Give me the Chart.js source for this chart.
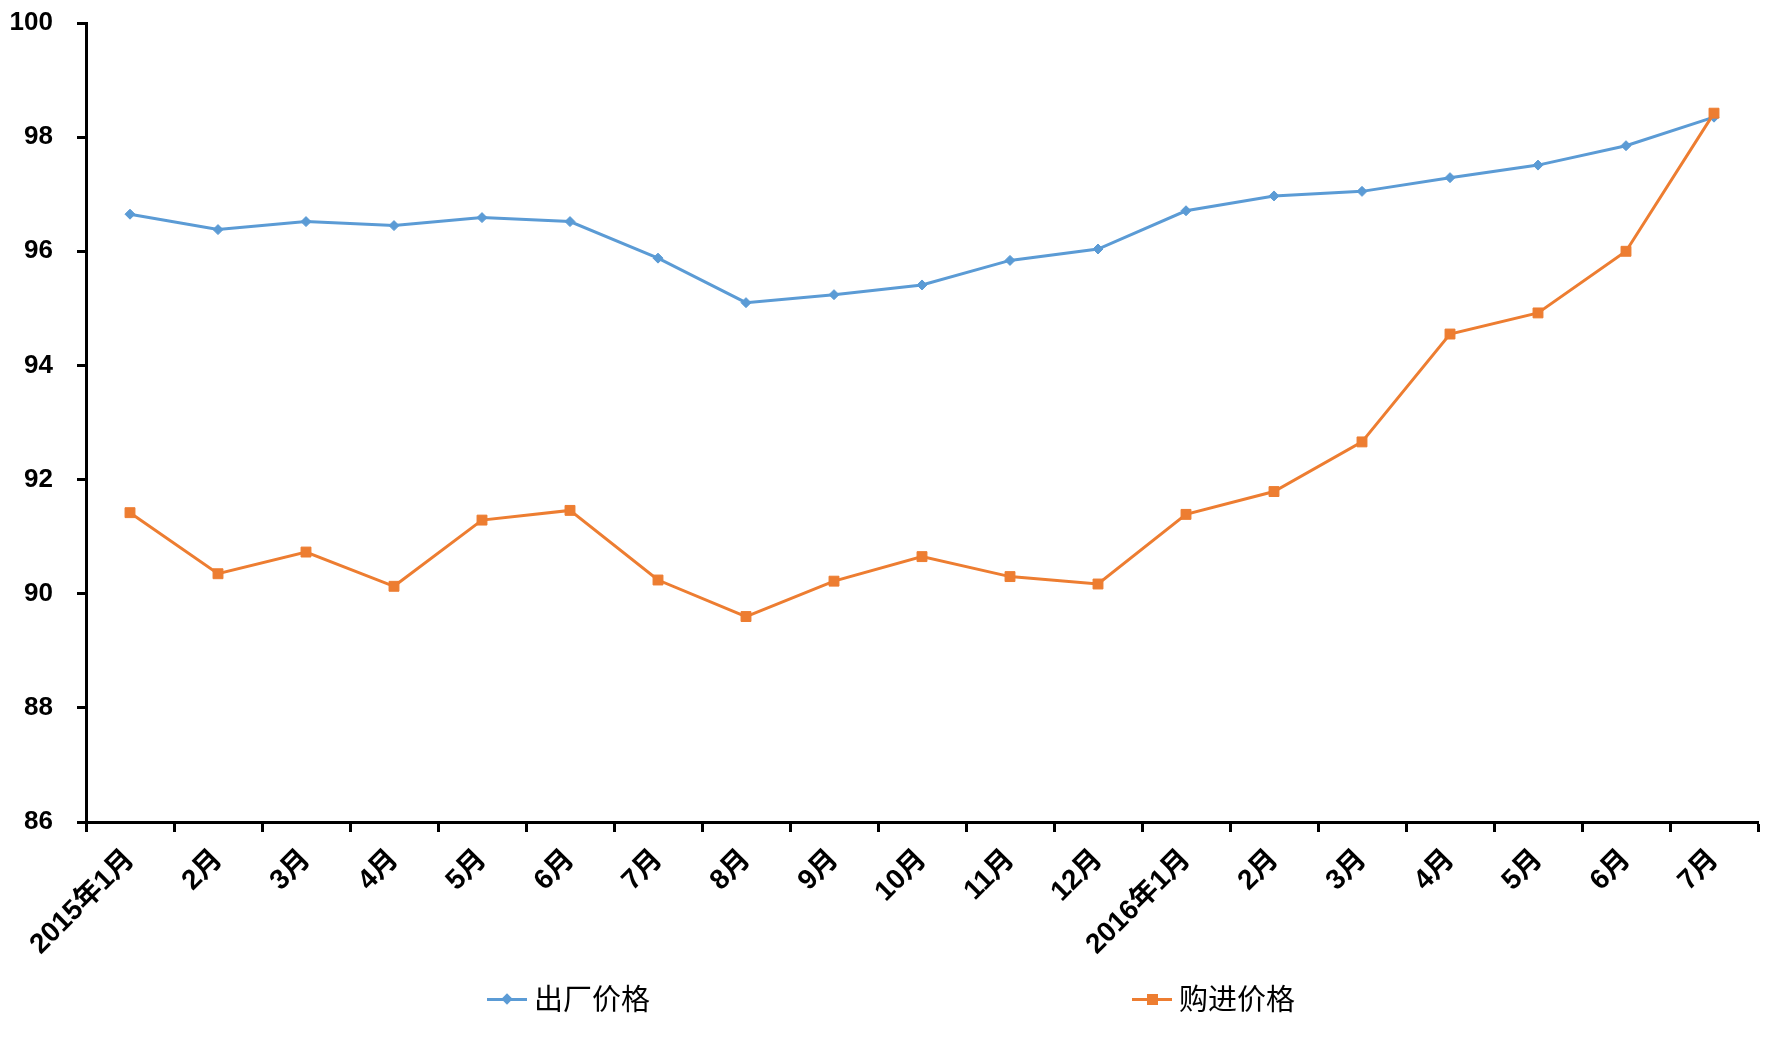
<!DOCTYPE html>
<html>
<head>
<meta charset="utf-8">
<script src="https://cdn.jsdelivr.net/npm/chart.js@4/dist/chart.umd.min.js"></script>
<style>
html,body{margin:0;padding:0;background:#fff;}
#wrap{position:relative;width:1783px;height:1055px;overflow:hidden;}
#legend{position:absolute;left:0;top:0;width:1783px;height:1055px;pointer-events:none;font-family:"Noto Sans CJK SC","Noto Sans",sans-serif;font-size:29px;color:#000;}
.item{position:absolute;top:977px;height:40px;display:flex;align-items:center;white-space:nowrap;}
.sym{position:relative;width:40px;height:40px;margin-right:7px;}
.ln{position:absolute;left:0;right:0;top:21px;height:3px;}
.dia{position:absolute;left:16px;top:18px;width:8px;height:8px;transform:rotate(45deg);}
.sq{position:absolute;left:15px;top:17px;width:11px;height:11px;}
</style>
</head>
<body>
<div id="wrap">
<canvas id="c" width="1783" height="1055"></canvas>
<div id="legend"></div>
</div>
<script>
const categories = ['2015年1月','2月','3月','4月','5月','6月','7月','8月','9月','10月','11月','12月','2016年1月','2月','3月','4月','5月','6月','7月'];
const seriesNames = ['出厂价格','购进价格'];
const exFactoryPrice = [96.65, 96.38, 96.52, 96.45, 96.59, 96.52, 95.88, 95.10, 95.24, 95.41, 95.84, 96.04, 96.71, 96.97, 97.05, 97.29, 97.51, 97.85, 98.35];
const purchasePrice = [91.42, 90.35, 90.73, 90.13, 91.29, 91.46, 90.24, 89.60, 90.22, 90.65, 90.30, 90.17, 91.39, 91.79, 92.66, 94.55, 94.92, 96.00, 98.42];
const yTickValues = [86, 88, 90, 92, 94, 96, 98, 100];
const colors = ['#5B9BD5', '#ED7D31'];

const tickFont = {family: '"Liberation Sans", "Noto Sans CJK SC", sans-serif', weight: 'bold'};

new Chart(document.getElementById('c'), {
  type: 'line',
  data: {
    labels: categories,
    datasets: [
      {label: seriesNames[0], data: exFactoryPrice, borderColor: colors[0], backgroundColor: colors[0],
       borderWidth: 3, pointStyle: 'rectRot', pointRadius: 5, pointBorderWidth: 1, tension: 0, order: 1},
      {label: seriesNames[1], data: purchasePrice, borderColor: colors[1], backgroundColor: colors[1],
       borderWidth: 3, pointStyle: 'rect', pointRadius: 7, pointBorderWidth: 1, tension: 0, order: 0}
    ]
  },
  options: {
    responsive: false,
    devicePixelRatio: 1,
    animation: false,
    layout: {autoPadding: false, padding: {left: 0, right: 25, top: 23, bottom: 83}},
    plugins: {legend: {display: false}, tooltip: {enabled: false}},
    scales: {
      x: {
        offset: true,
        grid: {offset: true, drawOnChartArea: false, drawTicks: true, tickLength: 10, tickWidth: 3, tickColor: '#000'},
        border: {color: '#000', width: 3},
        ticks: {autoSkip: false, minRotation: 45, maxRotation: 45, color: '#000', padding: 11,
                font: Object.assign({size: 28}, tickFont)},
        afterFit(s) { s.height = 150; s.paddingTop = 0; s.paddingBottom = 0; }
      },
      y: {
        min: yTickValues[0], max: yTickValues[yTickValues.length - 1],
        afterBuildTicks(s) { s.ticks = yTickValues.map(v => ({value: v})); },
        grid: {drawOnChartArea: false, drawTicks: true, tickLength: 9, tickWidth: 3, tickColor: '#000'},
        border: {color: '#000', width: 3},
        ticks: {color: '#000', padding: 24, font: Object.assign({size: 26}, tickFont)},
        afterFit(s) { s.width = 86; s.paddingTop = 0; s.paddingBottom = 0; }
      }
    }
  }
});

// HTML legend
const legend = document.getElementById('legend');
const legendX = [487, 1132];
seriesNames.forEach((name, i) => {
  const item = document.createElement('div');
  item.className = 'item';
  item.style.left = legendX[i] + 'px';
  const sym = document.createElement('div');
  sym.className = 'sym';
  const ln = document.createElement('div');
  ln.className = 'ln';
  ln.style.background = colors[i];
  const mk = document.createElement('div');
  mk.className = i === 0 ? 'dia' : 'sq';
  mk.style.background = colors[i];
  sym.appendChild(ln); sym.appendChild(mk);
  const txt = document.createElement('span');
  txt.textContent = name;
  item.appendChild(sym); item.appendChild(txt);
  legend.appendChild(item);
});
</script>
</body>
</html>
